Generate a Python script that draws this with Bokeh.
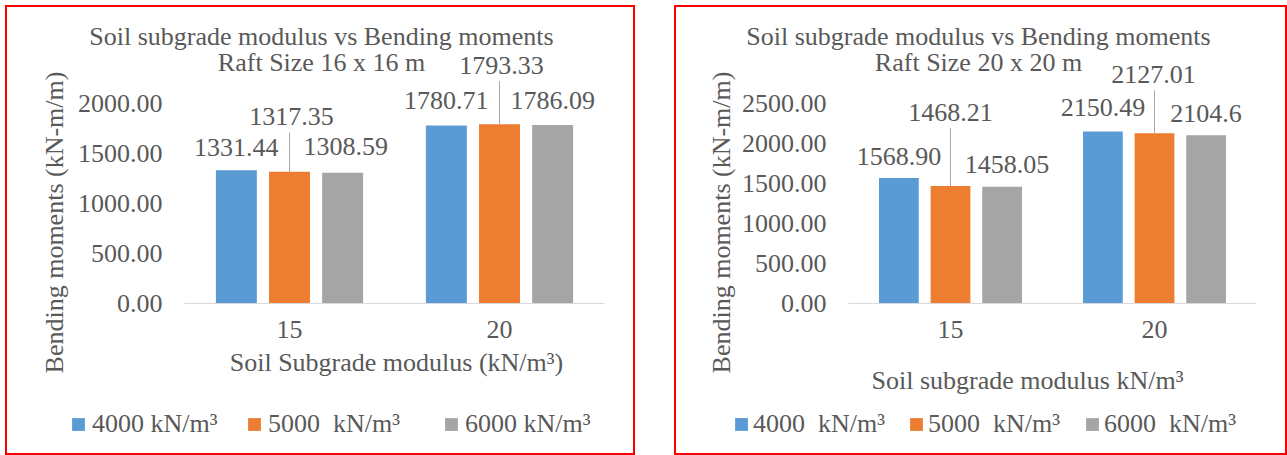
from math import pi

from bokeh.core.properties import value
from bokeh.embed import file_html
from bokeh.layouts import row
from bokeh.models import (ColumnDataSource, FixedTicker, Label, Legend,
                          LegendItem, PrintfTickFormatter, Range1d)
from bokeh.plotting import figure
from bokeh.resources import INLINE

# ---------------------------------------------------------------- data
categories = ["15", "20"]  # soil subgrade modulus

# Raft 16 x 16 m, bending moments (kN-m/m)
raft16_names = ["4000 kN/m³", "5000  kN/m³", "6000 kN/m³"]
raft16_k4000 = [1331.44, 1780.71]
raft16_k5000 = [1317.35, 1793.33]
raft16_k6000 = [1308.59, 1786.09]
raft16_ticks = [0, 500, 1000, 1500, 2000]

# Raft 20 x 20 m, bending moments (kN-m/m)
raft20_names = ["4000  kN/m³", "5000  kN/m³", "6000  kN/m³"]
raft20_k4000 = [1568.90, 2150.49]
raft20_k5000 = [1468.21, 2127.01]
raft20_k6000 = [1458.05, 2104.6]
raft20_ticks = [0, 500, 1000, 1500, 2000, 2500]

# decimals shown in the data labels
raft16_decimals = [[2, 2], [2, 2], [2, 2]]
raft20_decimals = [[2, 2], [2, 2], [2, 1]]

# ---------------------------------------------------------------- style
FONT = "Liberation Serif"
FS = "26px"
TXT = "#595959"
COLORS = ["#5B9BD5", "#ED7D31", "#A5A5A5"]
OFFSETS = [-0.253, 0.0, 0.253]
BAR_W = 0.195
PANEL_H = 450
AXIS_Y = 298          # pixels from the panel top down to the category axis


def build(cfg):
    series = cfg["series"]
    ppu = cfg["px_per_unit"]          # pixels per kN-m/m
    cw = cfg["cat_px"]                # pixels per category
    ax = cfg["axis_x"]                # pixels from panel left to value axis
    W = cfg["width"]

    # the plot area fills the whole panel; the axes sit at fixed positions
    x_range = Range1d(0.5 - ax / cw, 0.5 + (W - ax) / cw)
    y_range = Range1d(-(PANEL_H - AXIS_Y) / ppu, AXIS_Y / ppu)

    p = figure(
        x_range=x_range, y_range=y_range, width=W, height=PANEL_H,
        min_border=0, output_backend="svg", toolbar_location=None,
        title=None, background_fill_color=None, border_fill_color=None,
        outline_line_color=None,
    )
    p.margin = cfg["margin"]
    p.styles = {"outline": "2px solid #FF0000", "outline-offset": "-2px"}
    p.xgrid.visible = False
    p.ygrid.visible = False

    pos = list(range(1, len(categories) + 1))

    xa = p.xaxis[0]
    xa.fixed_location = 0
    xa.bounds = (0.5, len(categories) + 0.5)
    xa.ticker = FixedTicker(ticks=pos)
    xa.major_label_overrides = {k: c for k, c in zip(pos, categories)}
    xa.axis_line_color = "#D9D9D9"
    xa.major_tick_line_color = None
    xa.minor_tick_line_color = None
    xa.major_tick_in = 0
    xa.major_tick_out = 0
    xa.major_label_standoff = 17
    xa.major_label_text_font = FONT
    xa.major_label_text_font_size = FS
    xa.major_label_text_color = TXT

    ya = p.yaxis[0]
    ya.fixed_location = 0.5
    ya.ticker = FixedTicker(ticks=cfg["ticks"])
    ya.formatter = PrintfTickFormatter(format="%.2f")
    ya.axis_line_color = None
    ya.major_tick_line_color = None
    ya.minor_tick_line_color = None
    ya.major_tick_in = 0
    ya.major_tick_out = 0
    ya.major_label_standoff = 22
    ya.major_label_text_font = FONT
    ya.major_label_text_font_size = FS
    ya.major_label_text_color = TXT

    renderers = []
    for i, vals in enumerate(series):
        rise = cfg["rise"][i]
        labels = [f"{v:.{d}f}" for v, d in zip(vals, cfg["decimals"][i])]
        src = ColumnDataSource(dict(
            x=[c + OFFSETS[i] for c in pos],
            top=vals,
            label=labels,
            label_y=[v + r / ppu for v, r in zip(vals, rise)],
            lead_y=[v + (r - 16) / ppu for v, r in zip(vals, rise)],
            dx=cfg["shift"][i],
        ))
        r = p.vbar(x="x", top="top", width=BAR_W, source=src,
                   fill_color=COLORS[i], line_color=None)
        renderers.append(r)
        if i == 1:
            p.segment(x0="x", y0="top", x1="x", y1="lead_y", source=src,
                      line_color="#A6A6A6", line_width=1)
        p.text(x="x", y="label_y", text="label", x_offset="dx", source=src,
               text_font=value(FONT), text_font_size=FS, text_color=TXT,
               text_align="center", text_baseline="middle")

    def text(s, x, y, angle=0.0):
        # x from the panel's left edge, y from its top edge (pixels)
        p.add_layout(Label(x=x, y=PANEL_H - y, x_units="screen",
                           y_units="screen", text=s, angle=angle,
                           text_font=FONT, text_font_size=FS,
                           text_color=TXT, text_align="center",
                           text_baseline="middle"))

    text("Soil subgrade modulus vs Bending moments", cfg["title_x"], 31)
    text(cfg["subtitle"], cfg["title_x"], 57)
    text("Bending moments (kN-m/m)", cfg["ytitle_x"], 217, pi / 2)
    text(cfg["xtitle"], cfg["xtitle_x"], cfg["xtitle_y"])

    for i, name in enumerate(cfg["names"]):
        p.add_layout(Legend(
            items=[LegendItem(label=name, renderers=[renderers[i]])],
            location=(cfg["legend_x"][i], 16), orientation="horizontal",
            padding=0, margin=0, spacing=0,
            glyph_width=16, glyph_height=16,
            label_standoff=cfg["legend_standoff"],
            border_line_color=None, background_fill_alpha=0,
            label_text_font=FONT, label_text_font_size=FS,
            label_text_color=TXT,
        ))
    return p


left = build(dict(
    series=[raft16_k4000, raft16_k5000, raft16_k6000],
    names=raft16_names, decimals=raft16_decimals, ticks=raft16_ticks,
    px_per_unit=0.1, cat_px=210, axis_x=179, width=630,
    margin=(5, 0, 0, 5),
    rise=[[23, 25], [55, 59], [26, 24]],
    shift=[[0, 0], [2, 2], [3, 0]],
    title_x=316, subtitle="Raft Size 16 x 16 m",
    ytitle_x=49,
    xtitle="Soil Subgrade modulus (kN/m³)", xtitle_x=391, xtitle_y=357,
    legend_x=[65, 241, 438], legend_standoff=6,
))

right = build(dict(
    series=[raft20_k4000, raft20_k5000, raft20_k6000],
    names=raft20_names, decimals=raft20_decimals, ticks=raft20_ticks,
    px_per_unit=0.08, cat_px=204, axis_x=174, width=613,
    margin=(5, 0, 0, 39),
    rise=[[21, 24], [74, 59], [22, 22]],
    shift=[[0, 0], [0, -1], [5, 0]],
    title_x=304, subtitle="Raft Size 20 x 20 m",
    ytitle_x=47,
    xtitle="Soil subgrade modulus kN/m³", xtitle_x=353, xtitle_y=375,
    legend_x=[59, 234, 410], legend_standoff=4,
))

layout = row(left, right)
open("out.html", "w").write(file_html(layout, INLINE))
